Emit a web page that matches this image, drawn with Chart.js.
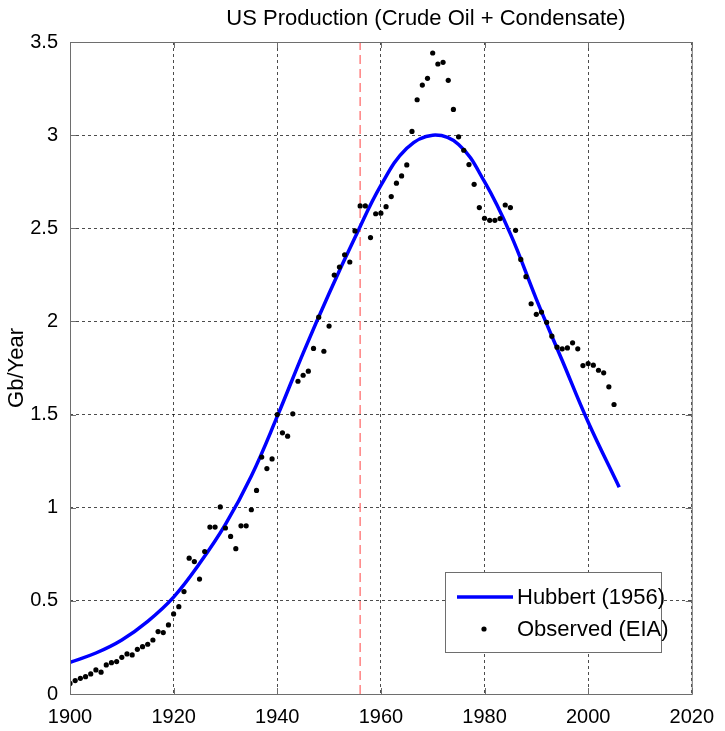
<!DOCTYPE html>
<html>
<head>
<meta charset="utf-8">
<script src="https://cdn.jsdelivr.net/npm/chart.js@4.4.1/dist/chart.umd.min.js"></script>
<style>
  body { margin: 0; background: #fff; }
  #wrap { width: 725px; height: 731px; }
</style>
</head>
<body>
<div id="wrap"><canvas id="myChart" width="725" height="731"></canvas></div>
<script>
const chartTitle = 'US Production (Crude Oil + Condensate)';
const yLabel = 'Gb/Year';
const xTicks = [1900, 1920, 1940, 1960, 1980, 2000, 2020];
const yTicks = [0, 0.5, 1, 1.5, 2, 2.5, 3, 3.5];

// observed production, one value per year from 1900
const obsStart = 1900;
const obsValues = [
  0.057, 0.072, 0.084, 0.093, 0.108, 0.129, 0.117, 0.156, 0.168, 0.174,
  0.197, 0.215, 0.210, 0.240, 0.254, 0.267, 0.290, 0.335, 0.330, 0.371,
  0.430, 0.469, 0.550, 0.729, 0.711, 0.617, 0.765, 0.896, 0.896, 1.004,
  0.891, 0.846, 0.780, 0.903, 0.903, 0.989, 1.093, 1.272, 1.210, 1.262,
  1.500, 1.402, 1.384, 1.504, 1.679, 1.711, 1.733, 1.855, 2.023, 1.840,
  1.975, 2.249, 2.292, 2.358, 2.319, 2.486, 2.620, 2.620, 2.450, 2.578,
  2.581, 2.616, 2.670, 2.742, 2.781, 2.840, 3.020, 3.190, 3.269, 3.305,
  3.441, 3.382, 3.391, 3.294, 3.138, 2.991, 2.919, 2.842, 2.736, 2.611,
  2.554, 2.543, 2.543, 2.552, 2.625, 2.611, 2.489, 2.333, 2.240, 2.095,
  2.038, 2.050, 1.995, 1.921, 1.862, 1.853, 1.858, 1.885, 1.853, 1.763,
  1.774, 1.765, 1.738, 1.724, 1.649, 1.554
];
const obsYears = obsValues.map((v, i) => obsStart + i);

// Hubbert (1956) curve
const hubbertYears = [1900, 1905, 1910, 1915, 1920, 1925, 1930, 1935, 1940, 1945, 1950,
  1955, 1960, 1965, 1970, 1975, 1980, 1985, 1990, 1995, 2000, 2006];
const hubbertValues = [0.17, 0.22, 0.29, 0.39, 0.52, 0.70, 0.91, 1.17, 1.49, 1.83, 2.15,
  2.45, 2.73, 2.93, 3.00, 2.95, 2.75, 2.47, 2.12, 1.79, 1.46, 1.11];

const peakYear = 1956;

const FONT = 'Liberation Sans, Arial, Helvetica, sans-serif';

const toPoints = (xs, ys) => xs.map((x, i) => ({ x: x, y: ys[i] }));

const framePlugin = {
  id: 'frame',
  afterDraw(chart) {
    const { ctx, chartArea: a, scales } = chart;
    ctx.save();
    ctx.strokeStyle = '#6e6e6e';
    ctx.lineWidth = 1;
    ctx.strokeRect(a.left + 0.5, a.top + 0.5, a.right - a.left, a.bottom - a.top);
    ctx.beginPath();
    xTicks.forEach(v => {
      const px = Math.round(scales.x.getPixelForValue(v)) + 0.5;
      ctx.moveTo(px, a.bottom); ctx.lineTo(px, a.bottom - 6);
      ctx.moveTo(px, a.top); ctx.lineTo(px, a.top + 6);
    });
    yTicks.forEach(v => {
      const py = Math.round(scales.y.getPixelForValue(v)) + 0.5;
      ctx.moveTo(a.left, py); ctx.lineTo(a.left + 6, py);
      ctx.moveTo(a.right, py); ctx.lineTo(a.right - 6, py);
    });
    ctx.stroke();

    // title
    ctx.fillStyle = '#000';
    ctx.font = '22px ' + FONT;
    ctx.textAlign = 'center';
    ctx.textBaseline = 'middle';
    ctx.fillText(chartTitle, 426, 19);

    // legend box
    const bx = 445, by = 572, bw = 216, bh = 80;
    ctx.fillStyle = '#fff';
    ctx.fillRect(bx, by, bw, bh);
    ctx.strokeStyle = '#6e6e6e';
    ctx.strokeRect(bx + 0.5, by + 0.5, bw, bh);
    const hub = chart.data.datasets[1];
    const obs = chart.data.datasets[0];
    ctx.strokeStyle = hub.borderColor;
    ctx.lineWidth = hub.borderWidth;
    ctx.beginPath();
    ctx.moveTo(457, 597); ctx.lineTo(513, 597);
    ctx.stroke();
    ctx.fillStyle = obs.backgroundColor;
    ctx.beginPath();
    ctx.arc(484, 629, obs.pointRadius, 0, Math.PI * 2);
    ctx.fill();
    ctx.fillStyle = '#000';
    ctx.font = '22px ' + FONT;
    ctx.textAlign = 'left';
    ctx.fillText(hub.label, 517, 598);
    ctx.fillText(obs.label, 517, 630);
    ctx.restore();
  }
};

const ctx = document.getElementById('myChart');
const myChart = new Chart(ctx, {
  type: 'scatter',
  data: {
    datasets: [{
      label: 'Observed (EIA)',
      data: toPoints(obsYears, obsValues),
      backgroundColor: '#000',
      borderColor: '#000',
      pointRadius: 2.6,
      pointBorderWidth: 0,
      showLine: false,
      order: 0
    }, {
      label: 'Hubbert (1956)',
      data: toPoints(hubbertYears, hubbertValues),
      borderColor: '#0000ff',
      backgroundColor: '#0000ff',
      borderWidth: 3.5,
      pointRadius: 0,
      showLine: true,
      tension: 0.4,
      order: 1
    }, {
      label: 'peak',
      data: [{ x: peakYear, y: 0 }, { x: peakYear, y: 3.5 }],
      borderColor: '#ff8080',
      borderWidth: 1.5,
      borderDash: [9, 5],
      pointRadius: 0,
      showLine: true,
      order: 2
    }]
  },
  options: {
    responsive: false,
    animation: false,
    layout: { padding: { top: 42, right: 31, left: 0, bottom: 0 } },
    plugins: {
      legend: { display: false },
      tooltip: { enabled: false },
      title: { display: false }
    },
    scales: {
      x: {
        type: 'linear',
        min: 1900,
        max: 2020,
        afterBuildTicks: s => { s.ticks = xTicks.map(v => ({ value: v })); },
        afterFit: s => { s.height = 37; },
        grid: { color: 'rgba(0,0,0,0.7)', lineWidth: 1, drawTicks: false },
        border: { display: false, dash: [3, 3] },
        ticks: {
          color: '#000', font: { family: FONT, size: 20 }, padding: 11, maxRotation: 0,
          callback: v => String(v)
        }
      },
      y: {
        min: 0,
        max: 3.5,
        afterBuildTicks: s => { s.ticks = yTicks.map(v => ({ value: v })); },
        afterFit: s => { s.width = 70; },
        grid: { color: 'rgba(0,0,0,0.7)', lineWidth: 1, drawTicks: false },
        border: { display: false, dash: [3, 3] },
        ticks: {
          color: '#000', font: { family: FONT, size: 20 }, padding: 12,
          callback: v => String(v)
        },
        title: {
          display: true,
          text: yLabel,
          color: '#000',
          font: { family: FONT, size: 22 },
          padding: { top: 4, bottom: 0 }
        }
      }
    }
  },
  plugins: [framePlugin]
});
</script>
</body>
</html>
